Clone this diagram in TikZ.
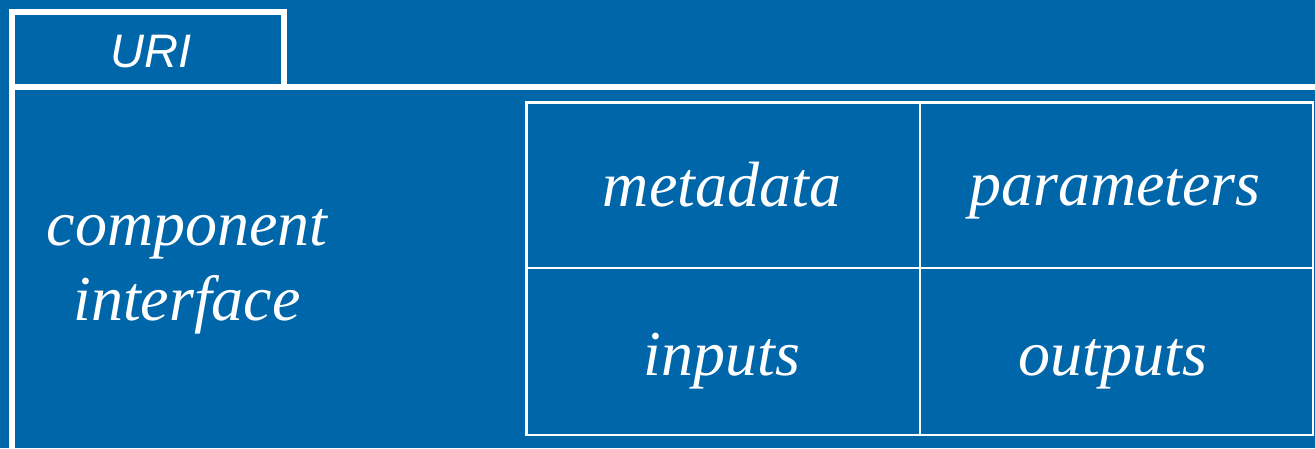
\documentclass[tikz,border=0pt]{standalone}
\usepackage{fontspec}
\setmainfont{Liberation Serif}
\newfontfamily\urifont{Liberation Sans}
\definecolor{panelblue}{RGB}{0,102,170}
\tikzset{
  frame/.style={draw=white, line width=6pt},
  grid/.style={draw=white, line width=2.6pt},
  label/.style={text=white, anchor=base, inner sep=0pt,
    font=\fontsize{64}{75}\selectfont\itshape},
  urilabel/.style={text=white, anchor=base, inner sep=0pt,
    font=\fontsize{47}{50}\selectfont\urifont\itshape},
}
\begin{document}
\begin{tikzpicture}[x=1pt, y=-1pt]
  % canvas
  \fill[panelblue] (0,0) rectangle (1315,448);
  \useasboundingbox (0,0) rectangle (1315,448);

  % URI tab
  \draw[frame] (12,87) -- (12,12) -- (284,12) -- (284,87);
  \node[urilabel] (uri) at (151,67) {URI};

  % component body outline
  \coordinate (bodyTL) at (12,86.5);
  \coordinate (bodyTR) at (1320,86.5);
  \coordinate (bodyBL) at (12,455);
  \draw[frame] (bodyTR) -- (bodyTL) -- (bodyBL);

  \node[label] (comp)  at (187,245) {component};
  \node[label] (iface) at (187,320) {interface};

  % inner grid
  \coordinate (gTL) at (526.5,102.5);
  \coordinate (gBR) at (1313,435);
  \draw[grid] (gTL) rectangle (gBR);
  \draw[grid] (920,102.5) -- (920,435);
  \draw[grid] (526.5,268) -- (1313,268);

  \node[label] (meta)    at (722,206)  {metadata};
  \node[label] (params)  at (1115,205) {parameters};
  \node[label] (inputs)  at (722,375)  {inputs};
  \node[label] (outputs) at (1113,375) {outputs};
\end{tikzpicture}
\end{document}
